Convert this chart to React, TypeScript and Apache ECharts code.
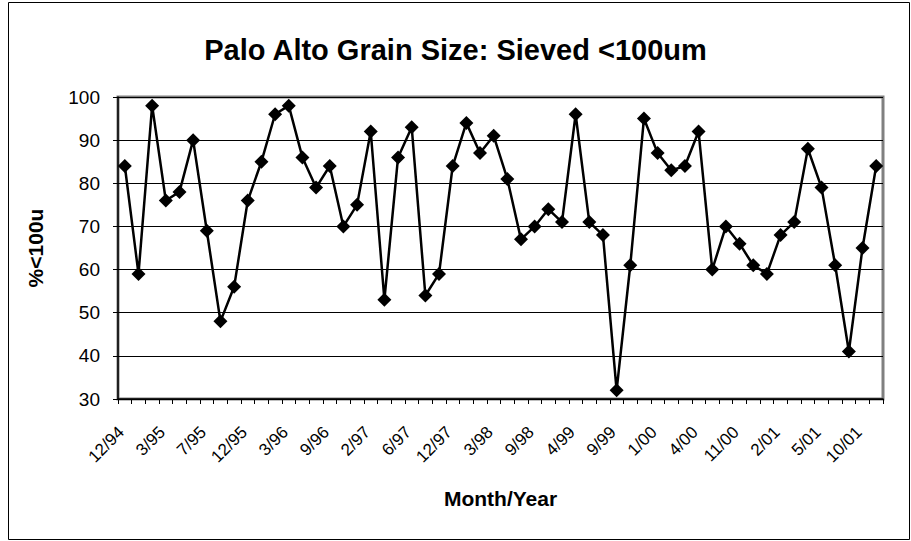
import React, { useEffect, useRef } from "react";
import * as echarts from "echarts";

const categories = [
  "12/94", "1/95", "2/95", "3/95", "4/95", "5/95", "7/95", "9/95", "11/95", "12/95",
  "1/96", "2/96", "3/96", "5/96", "7/96", "9/96", "11/96", "1/97", "2/97", "3/97",
  "4/97", "6/97", "8/97", "10/97", "12/97", "1/98", "2/98", "3/98", "5/98", "7/98",
  "9/98", "11/98", "2/99", "4/99", "6/99", "8/99", "9/99", "10/99", "11/99", "1/00",
  "2/00", "3/00", "4/00", "6/00", "9/00", "11/00", "12/00", "1/01", "2/01", "3/01",
  "4/01", "5/01", "7/01", "9/01", "10/01", "12/01",
];

const sieved = [
  84, 59, 98, 76, 78, 90, 69, 48, 56, 76,
  85, 96, 98, 86, 79, 84, 70, 75, 92, 53,
  86, 93, 54, 59, 84, 94, 87, 91, 81, 67,
  70, 74, 71, 96, 71, 68, 32, 61, 95, 87,
  83, 84, 92, 60, 70, 66, 61, 59, 68, 71,
  88, 79, 61, 41, 65, 84,
];

const titleText = "Palo Alto Grain Size: Sieved <100um";
const yName = "%<100u";
const xName = "Month/Year";

const FONT = "'Liberation Sans', Arial, sans-serif";

export default function App() {
  const ref = useRef<HTMLDivElement>(null);
  useEffect(() => {
    if (!ref.current) return;
    const chart = echarts.init(ref.current, null, { renderer: "svg" });
    chart.setOption({
      animation: false,
      backgroundColor: "#ffffff",
      title: {
        text: titleText,
        left: "center",
        top: 30,
        textStyle: { fontFamily: FONT, fontSize: 29, fontWeight: "bold", color: "#000" },
      },
      graphic: [
        {
          type: "rect",
          shape: { x: 8.5, y: 2.5, width: 901, height: 537 },
          style: { fill: "none", stroke: "#000", lineWidth: 1 },
          silent: true,
        },
      ],
      grid: {
        left: 118,
        top: 97,
        right: 28,
        bottom: 142,
        show: true,
        borderColor: "#808080",
        borderWidth: 3,
        backgroundColor: "#fff",
      },
      xAxis: {
        type: "category",
        data: categories,
        boundaryGap: true,
        name: xName,
        nameLocation: "middle",
        nameGap: 89,
        nameTextStyle: { fontFamily: FONT, fontSize: 21, fontWeight: "bold", color: "#000" },
        axisLine: { lineStyle: { color: "#000", width: 1.5 } },
        axisTick: { show: true, interval: 0, length: 5, lineStyle: { color: "#000" } },
        axisLabel: {
          interval: 2,
          rotate: 45,
          margin: 27,
          padding: [0, 5, 0, 0],
          fontFamily: FONT,
          fontSize: 17,
          color: "#000",
        },
        splitLine: { show: false },
      },
      yAxis: {
        type: "value",
        min: 30,
        max: 100,
        interval: 10,
        name: yName,
        nameLocation: "middle",
        nameGap: 72,
        nameRotate: 90,
        nameTextStyle: { fontFamily: FONT, fontSize: 21, fontWeight: "bold", color: "#000" },
        axisLine: { show: true, lineStyle: { color: "#000", width: 1.5 } },
        axisTick: { show: true, length: 5, lineStyle: { color: "#000" } },
        axisLabel: { margin: 18, fontFamily: FONT, fontSize: 19, color: "#000" },
        splitLine: { show: true, lineStyle: { color: "#000", width: 1 } },
      },
      series: [
        {
          type: "line",
          data: sieved,
          symbol: "diamond",
          symbolSize: 14,
          showAllSymbol: true,
          lineStyle: { color: "#000", width: 2.5 },
          itemStyle: { color: "#000" },
        },
      ],
    });
    return () => chart.dispose();
  }, []);
  return (
    <div
      ref={ref}
      style={{ position: "fixed", left: 0, top: 0, width: 911, height: 541 }}
    />
  );
}
